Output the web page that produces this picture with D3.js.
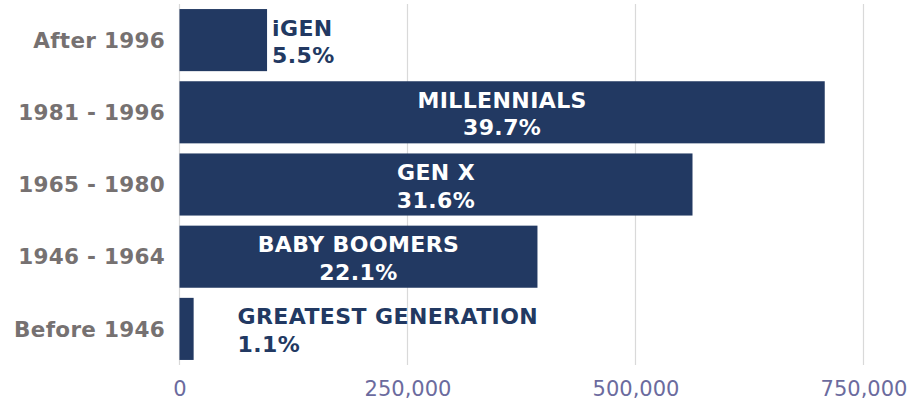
<!DOCTYPE html>
<html>
<head>
<meta charset="utf-8">
<script src="https://cdn.jsdelivr.net/npm/d3@7"></script>
<style>
  html, body { margin: 0; padding: 0; background: #fff; }
  svg { display: block; }
</style>
</head>
<body>
<script>
const WIDTH = 913;
const HEIGHT = 407;

// Data
const categories = ["After 1996", "1981 - 1996", "1965 - 1980", "1946 - 1964", "Before 1946"];
const generations = ["iGEN", "MILLENNIALS", "GEN X", "BABY BOOMERS", "GREATEST GENERATION"];
const shares = ["5.5%", "39.7%", "31.6%", "22.1%", "1.1%"];
const counts = [96000, 707500, 562500, 392500, 15500];
const tickValues = [0, 250000, 500000, 750000];

const BAR_COLOR = "#223962";
const FONT = "'DejaVu Sans', Verdana, sans-serif";

const margin = { top: 4, right: 50, bottom: 42, left: 179.5 };

const svg = d3
  .select("body")
  .append("svg")
  .attr("width", WIDTH)
  .attr("height", HEIGHT);

const x = d3
  .scaleLinear()
  .domain([0, 750000])
  .range([margin.left, margin.left + 684]);

const y = d3
  .scaleBand()
  .domain(categories)
  .range([margin.top, HEIGHT - margin.bottom])
  .paddingInner(0.14)
  .paddingOuter(0.07);

// Vertical gridlines, drawn under the bars
svg
  .append("g")
  .selectAll("line")
  .data(tickValues)
  .join("line")
  .attr("x1", (d) => x(d))
  .attr("x2", (d) => x(d))
  .attr("y1", margin.top)
  .attr("y2", HEIGHT - margin.bottom)
  .attr("stroke", "#d9d9d9")
  .attr("stroke-width", 1.2);

// Axis tick labels
const xAxis = svg
  .append("g")
  .attr("transform", `translate(0,${HEIGHT - margin.bottom})`)
  .call(d3.axisBottom(x).tickValues(tickValues).tickFormat(d3.format(",")).tickSize(0).tickPadding(16));
xAxis.select(".domain").remove();
xAxis
  .selectAll("text")
  .attr("font-family", FONT)
  .attr("font-size", 21)
  .attr("fill", "#6b6b9e");

// Category labels
svg
  .append("g")
  .selectAll("text")
  .data(categories)
  .join("text")
  .attr("x", 165)
  .attr("y", (d) => y(d) + y.bandwidth() / 2)
  .attr("dy", "0.36em")
  .attr("text-anchor", "end")
  .attr("font-family", FONT)
  .attr("font-weight", "bold")
  .attr("font-size", 21.5)
  .attr("letter-spacing", 0.3)
  .attr("fill", "#767171")
  .text((d) => d);

const rows = categories.map((c, i) => ({
  cat: c,
  gen: generations[i],
  share: shares[i],
  value: counts[i],
}));

// Bars
svg
  .append("g")
  .selectAll("rect")
  .data(rows)
  .join("rect")
  .attr("x", x(0))
  .attr("y", (d) => y(d.cat))
  .attr("width", (d) => x(d.value) - x(0))
  .attr("height", y.bandwidth())
  .attr("fill", BAR_COLOR);

// Bar labels: centered inside wide bars, to the right of narrow ones
const inside = (d) => x(d.value) - x(0) > 250;

const labels = svg
  .append("g")
  .selectAll("text")
  .data(rows)
  .join("text")
  .attr("font-family", FONT)
  .attr("font-weight", "bold")
  .attr("font-size", 22)
  .attr("letter-spacing", 0.4)
  .attr("fill", (d) => (inside(d) ? "#ffffff" : BAR_COLOR))
  .attr("text-anchor", (d) => (inside(d) ? "middle" : "start"));

labels.each(function (d) {
  const cx = inside(d)
    ? (x(0) + x(d.value)) / 2
    : Math.max(x(d.value) + 5, x(0) + 58);
  const cy = y(d.cat) + y.bandwidth() / 2;
  const t = d3.select(this);
  t.append("tspan").attr("x", cx).attr("y", cy - 4.5).text(d.gen);
  t.append("tspan").attr("x", cx).attr("y", cy + 23).text(d.share);
});
</script>
</body>
</html>
